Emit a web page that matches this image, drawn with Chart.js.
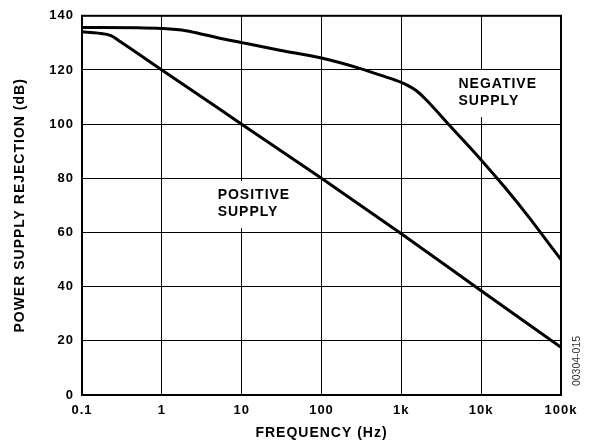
<!DOCTYPE html>
<html>
<head>
<meta charset="utf-8">
<script src="https://cdn.jsdelivr.net/npm/chart.js@4/dist/chart.umd.min.js"></script>
<style>
html,body{margin:0;padding:0;background:#fff;}
canvas{display:block;}
</style>
</head>
<body>
<canvas id="c" width="591" height="447"></canvas>
<script>
// ---- data ----
const negFreq = [0.1, 0.5, 1, 2, 3, 5, 10, 30, 100, 300, 600, 1000, 1500, 2000, 4000, 10000, 20000, 40000, 70000, 100000];
const negSupply = [135.7, 135.6, 135.3, 134.5, 133.4, 131.9, 130.1, 127.3, 124.4, 120.6, 117.7, 115.4, 112.6, 109.3, 99.6, 86.8, 76.5, 65.5, 56.0, 50.0];
const posFreq = [0.1, 0.16, 0.23, 0.3, 1, 10, 100, 1000, 10000, 100000];
const posSupply = [134.1, 133.6, 132.7, 130.5, 120.0, 100.0, 80.0, 59.5, 38.5, 17.6];
const xTickValues = [0.1, 1, 10, 100, 1000, 10000, 100000];
const xTickLabels = ['0.1', '1', '10', '100', '1k', '10k', '100k'];
const yTickValues = [0, 20, 40, 60, 80, 100, 120, 140];
const xTitle = 'FREQUENCY (Hz)';
const yTitle = 'POWER SUPPLY REJECTION (dB)';
const curveLabels = [
  {lines: ['NEGATIVE', 'SUPPLY'], x: 5200, y: 117},
  {lines: ['POSITIVE', 'SUPPLY'], x: 5, y: 76}
];
const figureCode = '00304-015';

const FONT = "'Liberation Sans', Arial, Helvetica, sans-serif";

const toPoints = (xs, ys) => xs.map((x, i) => ({x: x, y: ys[i]}));

const spacingPlugin = {
  id: 'spacing',
  beforeLayout(chart) { chart.ctx.letterSpacing = '1px'; },
  beforeDraw(chart) { chart.ctx.letterSpacing = '1px'; }
};

const labelPlugin = {
  id: 'curveLabels',
  beforeDatasetsDraw(chart) {
    const ctx = chart.ctx;
    const xs = chart.scales.x, ys = chart.scales.y;
    ctx.save();
    ctx.letterSpacing = '1px';
    ctx.font = 'bold 14px ' + FONT;
    ctx.textAlign = 'left';
    ctx.textBaseline = 'alphabetic';
    curveLabels.forEach(l => {
      const px = xs.getPixelForValue(l.x);
      const py = ys.getPixelForValue(l.y);
      const w = Math.max(...l.lines.map(t => ctx.measureText(t).width));
      const h = 10 + 17 * (l.lines.length - 1);
      ctx.fillStyle = '#fff';
      ctx.fillRect(px - 5, py - 8, w + 10, h + 20);
      ctx.fillStyle = '#000';
      l.lines.forEach((t, i) => ctx.fillText(t, px, py + 10 + 17 * i));
    });
    ctx.restore();
  },
  afterDraw(chart) {
    const ctx = chart.ctx;
    const a = chart.chartArea;
    ctx.save();
    ctx.strokeStyle = '#000';
    ctx.lineWidth = 2;
    ctx.strokeRect(a.left, a.top, a.right - a.left, a.bottom - a.top);
    ctx.letterSpacing = '0px';
    ctx.translate(a.right + 16, a.bottom - 34);
    ctx.rotate(-Math.PI / 2);
    ctx.font = '10.5px ' + FONT;
    ctx.fillStyle = '#333';
    ctx.textAlign = 'center';
    ctx.textBaseline = 'middle';
    ctx.fillText(figureCode, 0, 0);
    ctx.restore();
  }
};

new Chart(document.getElementById('c'), {
  type: 'line',
  data: {
    datasets: [
      {label: 'NEGATIVE SUPPLY', data: toPoints(negFreq, negSupply)},
      {label: 'POSITIVE SUPPLY', data: toPoints(posFreq, posSupply)}
    ]
  },
  options: {
    responsive: false,
    animation: false,
    devicePixelRatio: 1,
    layout: {padding: {left: 0, top: 13, right: 30, bottom: 0}},
    elements: {
      point: {radius: 0},
      line: {borderColor: '#000', borderWidth: 3, cubicInterpolationMode: 'monotone', fill: false}
    },
    plugins: {legend: {display: false}, tooltip: {enabled: false}},
    scales: {
      x: {
        type: 'logarithmic',
        min: 0.1,
        max: 100000,
        afterBuildTicks(scale) { scale.ticks = xTickValues.map(v => ({value: v})); },
        afterFit(scale) { scale.height = 52; },
        border: {display: false},
        grid: {color: '#000', lineWidth: 1, drawTicks: false},
        ticks: {
          autoSkip: false, maxRotation: 0, padding: 8, color: '#000',
          font: {family: FONT, weight: 'bold', size: 13},
          callback(v) { const i = xTickValues.indexOf(v); return i >= 0 ? xTickLabels[i] : ''; }
        },
        title: {display: true, text: xTitle, color: '#000', font: {family: FONT, weight: 'bold', size: 14}, padding: {top: 0, bottom: 5}}
      },
      y: {
        type: 'linear',
        min: 0,
        max: 140,
        afterBuildTicks(scale) { scale.ticks = yTickValues.map(v => ({value: v})); },
        afterFit(scale) { scale.width = 82; },
        border: {display: false},
        grid: {color: '#000', lineWidth: 1, drawTicks: false},
        ticks: {
          padding: 8, color: '#000',
          font: {family: FONT, weight: 'bold', size: 13}
        },
        title: {display: true, text: yTitle, color: '#000', font: {family: FONT, weight: 'bold', size: 14}, padding: {top: 12, bottom: 0}}
      }
    }
  },
  plugins: [spacingPlugin, labelPlugin]
});
</script>
</body>
</html>
